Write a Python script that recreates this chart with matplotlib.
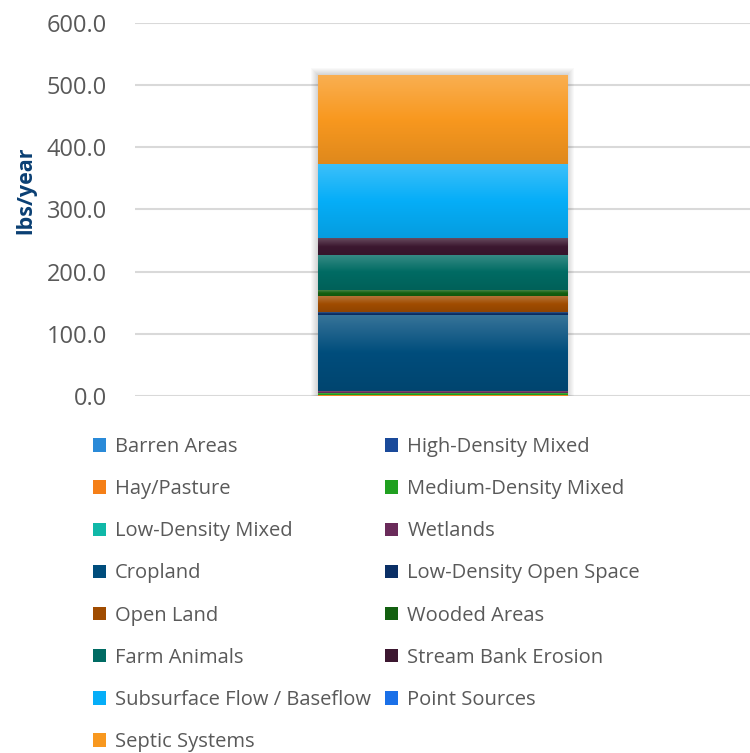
import numpy as np
import matplotlib
matplotlib.use('Agg')
import matplotlib.pyplot as plt
from matplotlib.colors import to_rgb
from matplotlib.patches import Rectangle

plt.rcParams['font.family'] = ['Open Sans', 'DejaVu Sans']

# stacked sources, bottom to top
sources = ['Barren Areas', 'High-Density Mixed', 'Hay/Pasture', 'Medium-Density Mixed',
           'Low-Density Mixed', 'Wetlands', 'Cropland', 'Low-Density Open Space',
           'Open Land', 'Wooded Areas', 'Farm Animals', 'Stream Bank Erosion',
           'Subsurface Flow / Baseflow', 'Point Sources', 'Septic Systems']
loads = [0.1, 0.2, 1.5, 3.0, 0.3, 2.4, 122.7, 4.8, 25.7, 9.6, 56.3, 27.3, 119.4, 0.0, 142.5]
colors = ['#2A8AD8', '#1A4A9A', '#F57F17', '#20A020', '#10B8A8', '#6A2B5A', '#004D7C',
          '#0A2F66', '#A04C00', '#136010', '#006B63', '#3C1730', '#06AEF8', '#1A70E8',
          '#F8981F']
yticks = [0, 100, 200, 300, 400, 500, 600]

fig = plt.figure(figsize=(7.5, 7.53), dpi=100)
ax = fig.add_axes([135 / 750, 1 - 396 / 753, 615 / 750, 373.3 / 753])

ax.set_xlim(-0.5, 0.5)
ax.set_ylim(0, 600)
ax.set_yticks(yticks)
ax.set_yticklabels([f'{v:.1f}' for v in yticks])
ax.set_xticks([])
ax.yaxis.grid(True, color='#D9D9D9', linewidth=1.5)
ax.set_axisbelow(True)
for s in ax.spines.values():
    s.set_visible(False)
ax.tick_params(axis='y', length=0, pad=20, labelsize=17, labelcolor='#595959')

ax.set_ylabel('lbs/year', fontsize=15.5, fontweight='bold', color='#0A3F73')
ax.yaxis.set_label_coords(-0.161, 0.55)

width = 0.405
bottom = 0.0
handles = []
for name, val, col in zip(sources, loads, colors):
    bars = ax.bar(0, val, width, bottom=bottom, color=col, label=name, zorder=3,
                  linewidth=0)
    handles.append(bars[0])
    # excel-like vertical gradient: light top, base middle, darker bottom
    if val > 0:
        base = np.array(to_rgb(col))
        light = base + (1 - base) * 0.22
        dark = base * 0.9
        t = np.linspace(0, 1, 64)[:, None]
        grad = np.where(t < 0.5, dark + (base - dark) * (t / 0.5),
                        base + (light - base) * ((t - 0.5) / 0.5))
        ax.imshow(grad[:, None, :], extent=(-width / 2, width / 2, bottom, bottom + val),
                  origin='lower', aspect='auto', interpolation='bilinear', zorder=4)
    bottom += val

# soft shadow around the bar
px_x = 1.0 / 615
px_y = 600 / 373.3
for k in range(1, 8):
    ax.add_patch(Rectangle((-width / 2 - k * px_x, -k * px_y * 0.3),
                           width + 2 * k * px_x, bottom + k * px_y * 1.3,
                           facecolor='black', alpha=0.025, linewidth=0, zorder=2.5))

ax.set_xlim(-0.5, 0.5)
ax.set_ylim(0, 600)

# legend in row order, two columns
order = list(range(0, 15, 2)) + list(range(1, 15, 2))
fig.legend([handles[i] for i in order], [sources[i] for i in order],
           loc='upper left', bbox_to_anchor=(93 / 750, 1 - 437 / 753), ncol=2,
           frameon=False, fontsize=14.5, handlelength=0.65, handleheight=0.65,
           handletextpad=0.45, labelspacing=1.1, columnspacing=0.7,
           borderaxespad=0, borderpad=0, labelcolor='#595959')

plt.savefig('out.png', dpi=100)
